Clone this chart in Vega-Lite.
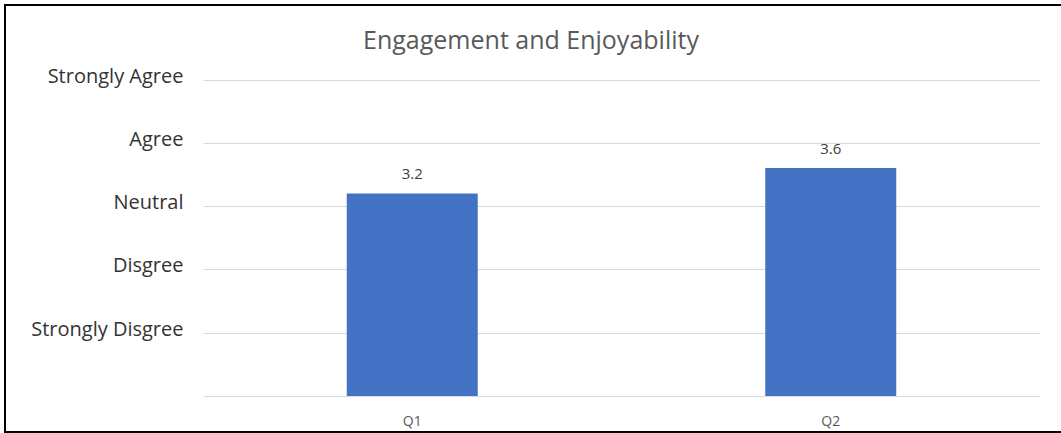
{
  "$schema": "https://vega.github.io/schema/vega-lite/v6.json",
  "autosize": {"type": "none"},
  "width": 1070,
  "height": 427,
  "padding": {"left": 5, "top": 5, "right": -14, "bottom": 1},
  "background": "white",
  "title": {
    "text": "Engagement and Enjoyability",
    "anchor": "middle",
    "frame": "group",
    "font": "Open Sans",
    "fontSize": 25,
    "fontWeight": "normal",
    "color": "#595959",
    "baseline": "alphabetic",
    "offset": -69,
    "dx": -9
  },
  "config": {
    "view": {"stroke": "black", "strokeWidth": 2},
    "font": "Open Sans"
  },
  "data": {
    "values": [
      {"question": "Q1", "score": 3.2},
      {"question": "Q2", "score": 3.6}
    ]
  },
  "encoding": {
    "x": {
      "field": "question",
      "type": "nominal",
      "scale": {"range": [198, 1035], "paddingInner": 0.687, "paddingOuter": 0.3435},
      "axis": {
        "orient": "bottom",
        "offset": -36,
        "domain": false,
        "ticks": false,
        "grid": false,
        "labelPadding": 18,
        "labelFontSize": 14,
        "labelColor": "#595959",
        "labelAngle": 0,
        "title": null
      }
    },
    "y": {
      "field": "score",
      "type": "quantitative",
      "scale": {"domain": [0, 5], "range": [391, 74.5], "nice": false},
      "axis": {
        "values": [0, 1, 2, 3, 4, 5],
        "labelExpr": "datum.value == 5 ? 'Strongly Agree' : datum.value == 4 ? 'Agree' : datum.value == 3 ? 'Neutral' : datum.value == 2 ? 'Disgree' : datum.value == 1 ? 'Strongly Disgree' : ''",
        "grid": true,
        "gridColor": "#D9D9D9",
        "gridWidth": 1,
        "domain": false,
        "ticks": false,
        "offset": -181,
        "labelPadding": 3,
        "labelFontSize": 20,
        "labelColor": "#333333",
        "labelBaseline": "alphabetic",
        "labelOffset": 2.5,
        "labelOverlap": false,
        "labelBound": false,
        "title": null
      }
    }
  },
  "layer": [
    {"mark": {"type": "bar", "color": "#4472C4"}},
    {
      "mark": {"type": "text", "dy": -14, "baseline": "alphabetic", "fontSize": 15, "color": "#404040"},
      "encoding": {"text": {"field": "score", "type": "quantitative", "format": ".1f"}}
    }
  ]
}
